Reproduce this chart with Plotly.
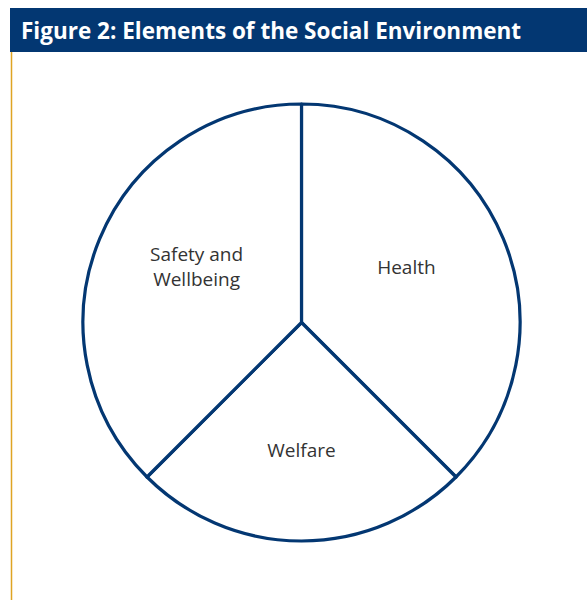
import plotly.graph_objects as go

labels = ["Health", "Welfare", "Safety and Wellbeing"]
label_text = ["Health<br>\u00a0", "Welfare", "Safety and<br>Wellbeing<br>\u00a0"]
values = [3, 2, 3]
title_text = "Figure 2: Elements of the Social Environment"

W, H = 587, 600
navy = "#033772"
gold = "#dfa423"

cx, cy, r = 301.5, 322.5, 218.5

fig = go.Figure(go.Pie(
    labels=labels,
    values=values,
    text=label_text,
    sort=False,
    direction="clockwise",
    rotation=0,
    textinfo="text",
    textposition="inside",
    insidetextorientation="horizontal",
    textfont=dict(family="Open Sans", size=19, color="#333333"),
    marker=dict(colors=["white"] * 3, line=dict(color=navy, width=3.2)),
    hoverinfo="label",
    showlegend=False,
    domain=dict(x=[(cx - r) / W, (cx + r) / W], y=[1 - (cy + r) / H, 1 - (cy - r) / H]),
))

fig.update_layout(
    width=W, height=H,
    margin=dict(l=0, r=0, t=0, b=0),
    paper_bgcolor="white",
    plot_bgcolor="white",
    shapes=[
        dict(type="rect", xref="paper", yref="paper",
             x0=10 / W, x1=1, y0=1 - 52 / H, y1=1 - 8 / H,
             fillcolor=navy, line=dict(width=0), layer="below"),
        dict(type="line", xref="paper", yref="paper",
             x0=11.5 / W, x1=11.5 / W, y0=0, y1=1 - 52 / H,
             line=dict(color=gold, width=1.5)),
    ],
    annotations=[
        dict(text="<b>" + title_text + "</b>", xref="paper", yref="paper",
             x=19 / W, y=1 - 30 / H, xanchor="left", yanchor="middle",
             showarrow=False, font=dict(family="Open Sans", size=22.5, color="white")),
    ],
)

fig.write_html(
    "out.html",
    config={"displayModeBar": False},
    post_script="document.body.style.margin='0';document.body.style.overflow='hidden';",
)
